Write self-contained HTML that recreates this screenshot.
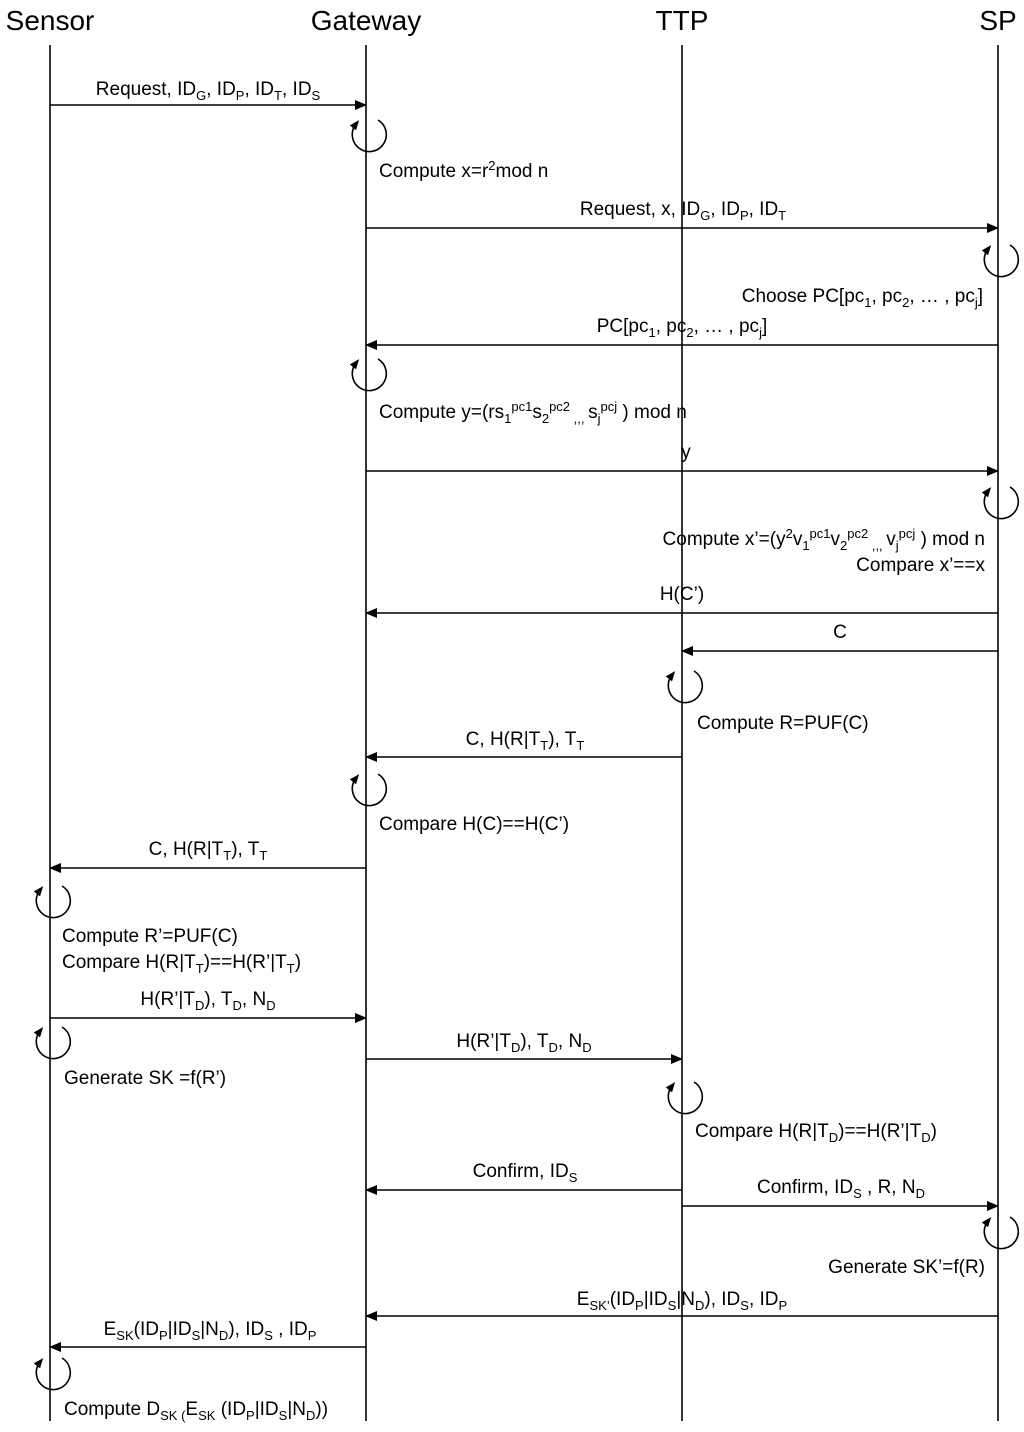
<!DOCTYPE html>
<html><head><meta charset="utf-8"><style>
html,body{margin:0;padding:0;background:#fff}
svg{display:block}
text{font-family:"Liberation Sans",sans-serif;font-size:19px;fill:#000}
.h{font-size:28px}
</style></head><body>
<svg width="1024" height="1432" viewBox="0 0 1024 1432" xmlns="http://www.w3.org/2000/svg">
<defs>
<marker id="a" markerWidth="12" markerHeight="10" refX="11" refY="5" orient="auto" markerUnits="userSpaceOnUse"><path d="M0,0 L12,5 L0,10 z" fill="#000"/></marker>
<marker id="b" markerWidth="10" markerHeight="8" refX="5" refY="4" orient="auto" markerUnits="userSpaceOnUse"><path d="M0,0 L10,4 L0,8 z" fill="#000"/></marker>
<g id="loop"><path d="M10,-14 A17,17 0 1 1 -12,-10" fill="none" stroke="#000" stroke-width="1.6" marker-end="url(#b)"/></g>
</defs>
<text class="h" x="50" y="30" text-anchor="middle">Sensor</text>
<text class="h" x="366" y="30" text-anchor="middle">Gateway</text>
<text class="h" x="682" y="30" text-anchor="middle">TTP</text>
<text class="h" x="998" y="30" text-anchor="middle">SP</text>
<g stroke="#000" stroke-width="1.6">
<line x1="50" y1="45" x2="50" y2="1421"/>
<line x1="366" y1="45" x2="366" y2="1421"/>
<line x1="682" y1="45" x2="682" y2="1421"/>
<line x1="998" y1="45" x2="998" y2="1421"/>
</g>
<g stroke="#000" stroke-width="1.6" marker-end="url(#a)">
<line x1="50" y1="105" x2="366" y2="105"/>
<line x1="366" y1="228" x2="998" y2="228"/>
<line x1="998" y1="345" x2="366" y2="345"/>
<line x1="366" y1="471" x2="998" y2="471"/>
<line x1="998" y1="613" x2="366" y2="613"/>
<line x1="998" y1="651" x2="682" y2="651"/>
<line x1="682" y1="757" x2="366" y2="757"/>
<line x1="366" y1="868" x2="50" y2="868"/>
<line x1="50" y1="1018" x2="366" y2="1018"/>
<line x1="366" y1="1059" x2="682" y2="1059"/>
<line x1="682" y1="1190" x2="366" y2="1190"/>
<line x1="682" y1="1206" x2="998" y2="1206"/>
<line x1="998" y1="1316" x2="366" y2="1316"/>
<line x1="366" y1="1347" x2="50" y2="1347"/>
</g>
<use href="#loop" x="368" y="134"/>
<use href="#loop" x="1000" y="259"/>
<use href="#loop" x="368" y="373"/>
<use href="#loop" x="1000" y="501"/>
<use href="#loop" x="684" y="685"/>
<use href="#loop" x="368" y="788"/>
<use href="#loop" x="52" y="900"/>
<use href="#loop" x="52" y="1041"/>
<use href="#loop" x="684" y="1096"/>
<use href="#loop" x="1000" y="1231"/>
<use href="#loop" x="52" y="1372"/>

<text x="208" y="95" text-anchor="middle">Request,  ID<tspan dy="5" font-size="13">G</tspan><tspan dy="-5">, ID</tspan><tspan dy="5" font-size="13">P</tspan><tspan dy="-5">, ID</tspan><tspan dy="5" font-size="13">T</tspan><tspan dy="-5">, ID</tspan><tspan dy="5" font-size="13">S</tspan></text>
<text x="379" y="177">Compute x=r<tspan dy="-7" font-size="13">2</tspan><tspan dy="7">mod n</tspan></text>
<text x="683" y="215" text-anchor="middle">Request, x, ID<tspan dy="5" font-size="13">G</tspan><tspan dy="-5">, ID</tspan><tspan dy="5" font-size="13">P</tspan><tspan dy="-5">, ID</tspan><tspan dy="5" font-size="13">T</tspan></text>
<text x="983" y="302" text-anchor="end">Choose PC[pc<tspan dy="5" font-size="13">1</tspan><tspan dy="-5">, pc</tspan><tspan dy="5" font-size="13">2</tspan><tspan dy="-5">, … , pc</tspan><tspan dy="5" font-size="13">j</tspan><tspan dy="-5">]</tspan></text>
<text x="682" y="332" text-anchor="middle">PC[pc<tspan dy="5" font-size="13">1</tspan><tspan dy="-5">, pc</tspan><tspan dy="5" font-size="13">2</tspan><tspan dy="-5">, … , pc</tspan><tspan dy="5" font-size="13">j</tspan><tspan dy="-5">]</tspan></text>
<text x="379" y="418">Compute y=(rs<tspan dy="5" font-size="13">1</tspan><tspan dy="-12" font-size="13">pc1</tspan><tspan dy="7">s</tspan><tspan dy="5" font-size="13">2</tspan><tspan dy="-12" font-size="13">pc2</tspan><tspan dy="12" font-size="13"> ,,, </tspan><tspan dy="-5">s</tspan><tspan dy="5" font-size="13">j</tspan><tspan dy="-12" font-size="13">pcj</tspan><tspan dy="7"> ) mod n</tspan></text>
<text x="686" y="458" text-anchor="middle">y</text>
<text x="985" y="545" text-anchor="end">Compute x’=(y<tspan dy="-7" font-size="13">2</tspan><tspan dy="7">v</tspan><tspan dy="5" font-size="13">1</tspan><tspan dy="-12" font-size="13">pc1</tspan><tspan dy="7">v</tspan><tspan dy="5" font-size="13">2</tspan><tspan dy="-12" font-size="13">pc2</tspan><tspan dy="12" font-size="13"> ,,, </tspan><tspan dy="-5">v</tspan><tspan dy="5" font-size="13">j</tspan><tspan dy="-12" font-size="13">pcj</tspan><tspan dy="7"> ) mod n</tspan></text>
<text x="985" y="571" text-anchor="end">Compare x’==x</text>
<text x="682" y="600" text-anchor="middle">H(C’)</text>
<text x="840" y="638" text-anchor="middle">C</text>
<text x="697" y="729">Compute R=PUF(C)</text>
<text x="525" y="745" text-anchor="middle">C, H(R|T<tspan dy="5" font-size="13">T</tspan><tspan dy="-5">), T</tspan><tspan dy="5" font-size="13">T</tspan></text>
<text x="379" y="830">Compare H(C)==H(C’)</text>
<text x="208" y="855" text-anchor="middle">C, H(R|T<tspan dy="5" font-size="13">T</tspan><tspan dy="-5">), T</tspan><tspan dy="5" font-size="13">T</tspan></text>
<text x="62" y="942">Compute R’=PUF(C)</text>
<text x="62" y="968">Compare H(R|T<tspan dy="5" font-size="13">T</tspan><tspan dy="-5">)==H(R’|T</tspan><tspan dy="5" font-size="13">T</tspan><tspan dy="-5">)</tspan></text>
<text x="208" y="1005" text-anchor="middle">H(R’|T<tspan dy="5" font-size="13">D</tspan><tspan dy="-5">), T</tspan><tspan dy="5" font-size="13">D</tspan><tspan dy="-5">, N</tspan><tspan dy="5" font-size="13">D</tspan></text>
<text x="524" y="1047" text-anchor="middle">H(R’|T<tspan dy="5" font-size="13">D</tspan><tspan dy="-5">), T</tspan><tspan dy="5" font-size="13">D</tspan><tspan dy="-5">, N</tspan><tspan dy="5" font-size="13">D</tspan></text>
<text x="64" y="1084">Generate SK =f(R’)</text>
<text x="695" y="1137">Compare H(R|T<tspan dy="5" font-size="13">D</tspan><tspan dy="-5">)==H(R’|T</tspan><tspan dy="5" font-size="13">D</tspan><tspan dy="-5">)</tspan></text>
<text x="525" y="1177" text-anchor="middle">Confirm, ID<tspan dy="5" font-size="13">S</tspan></text>
<text x="841" y="1193" text-anchor="middle">Confirm, ID<tspan dy="5" font-size="13">S</tspan><tspan dy="-5"> , R, N</tspan><tspan dy="5" font-size="13">D</tspan></text>
<text x="985" y="1273" text-anchor="end">Generate SK’=f(R)</text>
<text x="682" y="1305" text-anchor="middle">E<tspan dy="5" font-size="13">SK’</tspan><tspan dy="-5">(ID</tspan><tspan dy="5" font-size="13">P</tspan><tspan dy="-5">|ID</tspan><tspan dy="5" font-size="13">S</tspan><tspan dy="-5">|N</tspan><tspan dy="5" font-size="13">D</tspan><tspan dy="-5">), ID</tspan><tspan dy="5" font-size="13">S</tspan><tspan dy="-5">, ID</tspan><tspan dy="5" font-size="13">P</tspan></text>
<text x="210" y="1335" text-anchor="middle">E<tspan dy="5" font-size="13">SK</tspan><tspan dy="-5">(ID</tspan><tspan dy="5" font-size="13">P</tspan><tspan dy="-5">|ID</tspan><tspan dy="5" font-size="13">S</tspan><tspan dy="-5">|N</tspan><tspan dy="5" font-size="13">D</tspan><tspan dy="-5">), ID</tspan><tspan dy="5" font-size="13">S</tspan><tspan dy="-5"> , ID</tspan><tspan dy="5" font-size="13">P</tspan></text>
<text x="64" y="1415">Compute D<tspan dy="5" font-size="13">SK (</tspan><tspan dy="-5">E</tspan><tspan dy="5" font-size="13">SK</tspan><tspan dy="-5"> (ID</tspan><tspan dy="5" font-size="13">P</tspan><tspan dy="-5">|ID</tspan><tspan dy="5" font-size="13">S</tspan><tspan dy="-5">|N</tspan><tspan dy="5" font-size="13">D</tspan><tspan dy="-5">))</tspan></text>
</svg>
</body></html>
